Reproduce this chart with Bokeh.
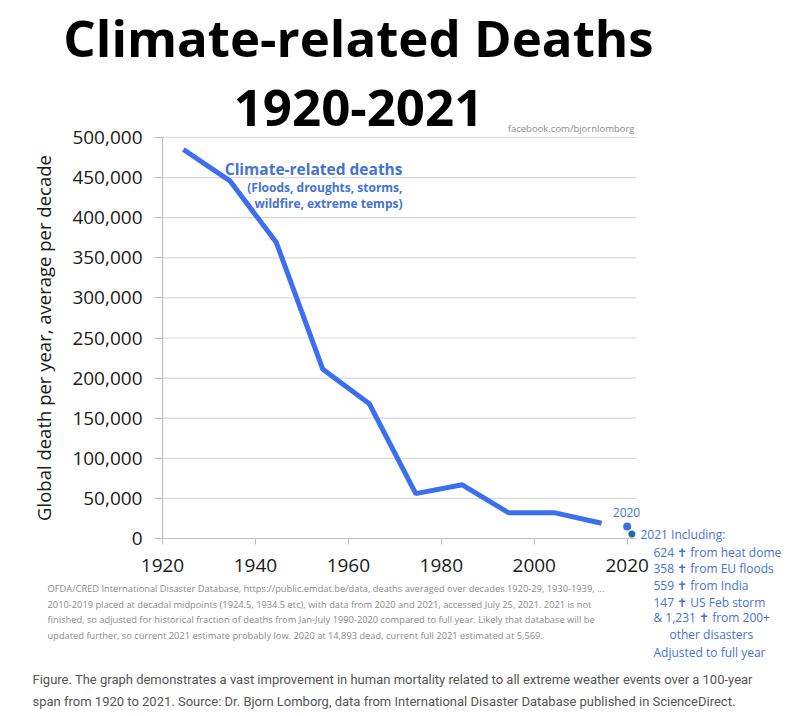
from bokeh.plotting import figure
from bokeh.models import Range1d, NumeralTickFormatter, FixedTicker
from bokeh.core.properties import value
from bokeh.embed import file_html
from bokeh.resources import INLINE

# ---- data ----
decade_mid = [1924.5, 1934.5, 1944.5, 1954.5, 1964.5, 1974.5, 1984.5, 1994.5, 2004.5, 2014.5]
deaths = [485000, 446000, 369000, 211000, 168000, 56000, 67000, 32000, 32000, 19000]
year_2020 = [2020]
deaths_2020 = [14893]
year_2021 = [2021]
deaths_2021 = [5569]
x_ticks = [1920, 1940, 1960, 1980, 2000, 2020]
y_ticks = [0, 50000, 100000, 150000, 200000, 250000, 300000, 350000, 400000, 450000, 500000]

title_lines = ["Climate-related Deaths", "1920-2021"]
series_title = "Climate-related deaths"
series_sub = ["(Floods, droughts, storms,", "wildfire, extreme temps)"]
note_2021 = ["2021 Including:", "624 \u271d from heat dome", "358 \u271d from EU floods",
             "559 \u271d from India", "147 \u271d US Feb storm", "& 1,231 \u271d from 200+",
             "other disasters", "Adjusted to full year"]
footnote = [
    "OFDA/CRED International Disaster Database, https://public.emdat.be/data, deaths averaged over decades 1920-29, 1930-1939, ...",
    "2010-2019 placed at decadal midpoints (1924.5, 1934.5 etc), with data from 2020 and 2021, accessed July 25, 2021. 2021 is not",
    "finished, so adjusted for historical fraction of deaths from Jan-July 1990-2020 compared to full year. Likely that database will be",
    "updated further, so current 2021 estimate probably low. 2020 at 14,893 dead, current full 2021 estimated at 5,569.",
]
caption = [
    "Figure. The graph demonstrates a vast improvement in human mortality related to all extreme weather events over a 100-year",
    "span from 1920 to 2021. Source: Dr. Bjorn Lomborg, data from International Disaster Database published in ScienceDirect.",
]

GRID = "#d9d9d9"
AX = "#bfbfbf"
LINE = "#3c6ef0"
TXT = "#4472d6"

# ---- layout geometry (canvas pixels) ----
W, H = 792, 716
PL, PR, PT, PB = 162, 636, 137, 538           # plot area corners
X0, X1 = 1920, 2022                            # visible year span of the plot area
Y0, Y1 = 0, 500000
sx = (PR - PL) / (X1 - X0)
sy = (PB - PT) / (Y1 - Y0)


def X(px):
    return X0 + (px - PL) / sx


def Y(py):
    return Y0 + (PB - py) / sy


p = figure(width=W, height=H, output_backend="svg", toolbar_location=None,
           x_range=Range1d(X(0), X(W)), y_range=Range1d(Y(H), Y(0)), min_border=0)
p.outline_line_color = None
p.background_fill_color = "white"
p.border_fill_color = "white"
p.grid.visible = False

# axes drawn at fixed positions inside the full-canvas frame
p.xaxis.fixed_location = Y0
p.yaxis.fixed_location = X0
p.xaxis.bounds = (X0, X1)
p.yaxis.bounds = (Y0, Y1)
p.xaxis.ticker = FixedTicker(ticks=x_ticks)
p.yaxis.ticker = FixedTicker(ticks=y_ticks)
p.yaxis.formatter = NumeralTickFormatter(format="0,0")
for ax in (p.xaxis, p.yaxis):
    ax.axis_line_color = AX
    ax.axis_line_width = 1.2
    ax.major_tick_line_color = AX
    ax.major_tick_in = 0
    ax.minor_tick_line_color = None
    ax.major_label_text_font = "Open Sans"
    ax.major_label_text_color = "#1a1a1a"
    ax.major_label_text_font_size = "19px"
p.xaxis.major_tick_out = 6
p.xaxis.major_label_standoff = 14
p.yaxis.major_tick_out = 8
p.yaxis.major_label_standoff = 12
p.yaxis.axis_label = "Global death per year, average per decade"
p.yaxis.axis_label_text_font = "Open Sans"
p.yaxis.axis_label_text_font_style = "normal"
p.yaxis.axis_label_text_font_size = "18.5px"
p.yaxis.axis_label_text_color = "#1a1a1a"
p.yaxis.axis_label_standoff = 13

# horizontal gridlines over the plot area only
grid_y = [t for t in y_ticks if t > Y0]
p.segment(x0=[X0] * len(grid_y), y0=grid_y, x1=[X1] * len(grid_y), y1=grid_y,
          line_color=GRID, line_width=1.2)

p.line(decade_mid, deaths, line_color=LINE, line_width=5)
p.scatter(year_2020, deaths_2020, size=8, fill_color="#3a6fe0", line_color=None)
p.scatter(year_2021, deaths_2021, size=7, fill_color="#1b6fa8", line_color=None)


def put(text, cx, cy, size, color, style="normal", align="left", font="Open Sans"):
    p.text(x=[X(cx)], y=[Y(cy)], text=[text], text_font=value(font),
           text_font_size=value(f"{size}px"), text_font_style=style,
           text_color=color, text_align=align, text_baseline="middle")


put(title_lines[0], 358, 36, 51, "#000000", "bold", "center")
put(title_lines[1], 358, 107, 51, "#000000", "bold", "center")
put("facebook.com/bjornlomborg", 634, 128, 9.5, "#8c8c8c", "normal", "right")

put(series_title, 402, 168, 15.5, TXT, "bold", "right")
put(series_sub[0], 402, 187, 12, TXT, "bold", "right")
put(series_sub[1], 402, 203, 12, TXT, "bold", "right")
put("2020", 626, 512, 12, TXT, "normal", "center")

note_y = [534, 552, 568, 585, 602, 617, 634, 652]
note_x = [640, 653, 653, 653, 653, 653, 669, 653]
for t, xx, yy in zip(note_2021, note_x, note_y):
    put(t, xx, yy, 12, TXT)

for i, t in enumerate(footnote):
    put(t, 47, 588 + i * 15.7, 9.3, "#8a8a8a")

for i, t in enumerate(caption):
    put(t, 32, 679 + i * 22, 13, "#555555", font="Roboto")

open("out.html", "w").write(file_html(p, INLINE))
